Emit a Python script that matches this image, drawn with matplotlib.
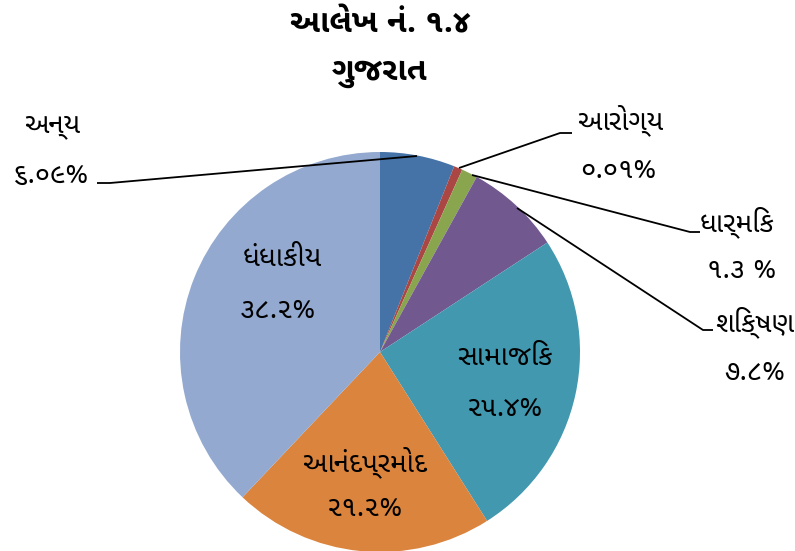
import matplotlib
matplotlib.use('Agg')
import matplotlib.pyplot as plt

# data
categories = ['અન્ય', 'આરોગ્ય', 'ધાર્મિક', 'શિક્ષણ', 'સામાજિક', 'આનંદપ્રમોદ', 'ધંધાકીય']
shares = [6.09, 0.7, 1.3, 7.8, 25.4, 21.2, 38.2]   # slice sizes as drawn
pct_labels = ['૬.૦૯%', '૦.૦૧%', '૧.૩ %', '૭.૮%', '૨૫.૪%', '૨૧.૨%', '૩૮.૨%']
colors = ['#4572A7', '#AA4643', '#89A54E', '#71588F', '#4198AF', '#DB843D', '#93A9CF']

plt.rcParams['font.family'] = ['Noto Sans Gujarati UI', 'DejaVu Sans']

W, H = 795, 551
CX, CY, R = 380, 352, 200


def P(px, py):
    # pixel position -> data coords (pie radius = 1)
    return ((px - CX) / R, (CY - py) / R)


fig = plt.figure(figsize=(W / 100, H / 100), dpi=100)
ax = fig.add_axes([0, 0, 1, 1])

ax.pie(shares, colors=colors, startangle=90, counterclock=False,
       radius=1, center=(0, 0), wedgeprops=dict(linewidth=0))
ax.set_aspect('auto')
ax.set_xlim(-CX / R, (W - CX) / R)
ax.set_ylim((CY - H) / R, CY / R)
ax.axis('off')

# title
ax.text(*P(380, 24), 'આલેખ નં. ૧.૪', ha='center', va='center',
        fontsize=23, fontweight='bold')
ax.text(*P(380, 72), 'ગુજરાત', ha='center', va='center',
        fontsize=23, fontweight='bold')

# label positions (name, value) in pixels
name_pos = [(52, 125), (620, 120), (737, 222), (755, 322), (505, 357), (365, 462), (282, 258)]
val_pos = [(50, 175), (618, 170), (742, 270), (755, 372), (505, 408), (365, 508), (278, 310)]
for i in range(len(categories)):
    ax.text(*P(*name_pos[i]), categories[i], ha='center', va='center', fontsize=20)
    ax.text(*P(*val_pos[i]), pct_labels[i], ha='center', va='center', fontsize=20)

# leader lines for the outside labels
leaders = [
    [(97, 183), (110, 183), (417, 156)],
    [(459, 168), (560, 133), (572, 133)],
    [(472, 175), (690, 232), (700, 232)],
    [(517, 208), (703, 330), (713, 330)],
]
for pts in leaders:
    xs, ys = zip(*[P(*p) for p in pts])
    ax.plot(xs, ys, color='black', lw=1.3, solid_capstyle='butt')

fig.savefig('out.png', dpi=100)
